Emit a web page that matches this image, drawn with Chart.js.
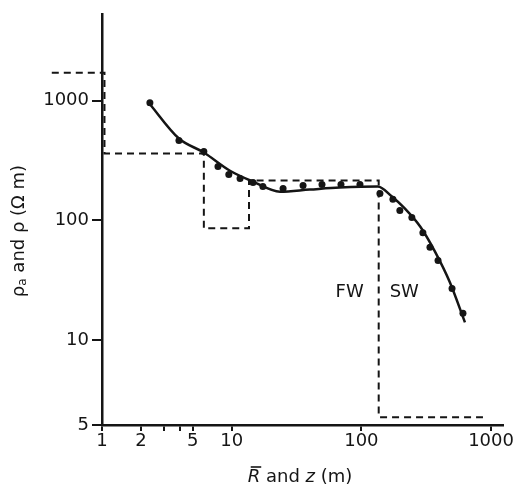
<!DOCTYPE html>
<html>
<head>
<meta charset="utf-8">
<script src="https://cdn.jsdelivr.net/npm/chart.js@4.4.1/dist/chart.umd.min.js"></script>
<style>
    html, body { margin: 0; padding: 0; background: #fff; }
</style>
</head>
<body>
<canvas id="grafica" width="517" height="486"></canvas>
<script>
// 🔹 Puntos de campo (R barra, rho aparente)
const puntosX = [2.34, 3.92, 6.1, 7.84, 9.5, 11.6, 14.6, 17.4, 24.9, 35.5, 49.7, 69.6, 97.5, 139, 175, 198, 245, 298, 338, 390, 500, 607];
const puntosY = [962, 464, 376, 282, 242, 224, 207, 192, 185, 196, 200, 200, 200, 168, 150, 121, 106, 79, 59.6, 46.4, 27, 16.8];

// 🔹 Curva suavizada
const curvaX = [2.26, 3.92, 6.1, 9.7, 14.6, 23.6, 40, 68, 134, 170, 216, 284, 366, 481, 629];
const curvaY = [980, 483, 369, 260, 211, 174, 181, 188, 192, 160, 126, 89, 56, 30.5, 14.1];

// 🔹 Modelo de capas (z, rho)
const capasX = [0.41, 1.045, 1.045, 6.1, 6.1, 13.6, 13.6, 136, 136, 866];
const capasY = [1710, 1710, 362, 362, 86, 86, 215, 215, 2.28, 2.28];

// 🔹 Ejes y marcas
const ejeX = [1, 1236];
const ejeY = [1.96, 5310];
const ticksX = [1, 2, 3, 4, 5, 10, 100, 1000];
const etiquetasX = ['1', '2', '', '', '5', '10', '100', '1000'];
const ticksY = [1.96, 10, 100, 1000];
const etiquetasY = ['5', '10', '100', '1000'];

const limiteFW = 136;
const alturaTexto = 25;

const negro = '#151515';
const fuente = '"DejaVu Sans", sans-serif';

function pares(xs, ys) {
    return xs.map((x, i) => ({ x: x, y: ys[i] }));
}

// 🔸 Títulos y etiquetas FW / SW
const textos = {
    id: 'textos',
    afterDraw(chart) {
        const c = chart.ctx;
        const sx = chart.scales.x;
        const sy = chart.scales.y;
        c.save();
        c.fillStyle = negro;
        c.strokeStyle = negro;

        // FW / SW
        c.font = '18px ' + fuente;
        c.textBaseline = 'middle';
        c.textAlign = 'right';
        let px = sx.getPixelForValue(limiteFW);
        let py = sy.getPixelForValue(alturaTexto);
        c.fillText('FW', px - 15, py);
        c.textAlign = 'left';
        c.fillText('SW', px + 11, py);

        // título eje Y
        c.save();
        c.translate(19, 231);
        c.rotate(-Math.PI / 2);
        c.textAlign = 'left';
        c.textBaseline = 'middle';
        const partes = [
            { t: 'ρ', f: '18px ' + fuente, dy: 0 },
            { t: 'a', f: '12px ' + fuente, dy: 4 },
            { t: ' and ρ (Ω m)', f: '18px ' + fuente, dy: 0 }
        ];
        let total = 0;
        partes.forEach(p => { c.font = p.f; total += c.measureText(p.t).width; });
        let cx = -total / 2;
        partes.forEach(p => {
            c.font = p.f;
            c.fillText(p.t, cx, p.dy);
            cx += c.measureText(p.t).width;
        });
        c.restore();

        // título eje X
        const partesX = [
            { t: 'R', f: 'italic 18px ' + fuente },
            { t: ' and ', f: '18px ' + fuente },
            { t: 'z', f: 'italic 18px ' + fuente },
            { t: ' (m)', f: '18px ' + fuente }
        ];
        let totalX = 0;
        partesX.forEach(p => { c.font = p.f; totalX += c.measureText(p.t).width; });
        let x0 = 300 - totalX / 2;
        const yT = 477;
        c.textAlign = 'left';
        c.textBaseline = 'middle';
        partesX.forEach((p, i) => {
            c.font = p.f;
            c.fillText(p.t, x0, yT);
            let w = c.measureText(p.t).width;
            if (i === 0) {
                c.lineWidth = 1.6;
                c.beginPath();
                c.moveTo(x0 + 3, yT - 10);
                c.lineTo(x0 + w + 1, yT - 10);
                c.stroke();
            }
            x0 += w;
        });
        c.restore();
    }
};

const ctx = document.getElementById('grafica').getContext('2d');

new Chart(ctx, {
    type: 'scatter',
    data: {
        datasets: [
            {
                label: 'Modelo',
                data: pares(capasX, capasY),
                showLine: true,
                borderColor: negro,
                borderWidth: 2,
                borderDash: [7, 5],
                pointRadius: 0,
                tension: 0,
                clip: false
            },
            {
                label: 'Curva',
                data: pares(curvaX, curvaY),
                showLine: true,
                borderColor: negro,
                borderWidth: 2.5,
                pointRadius: 0,
                cubicInterpolationMode: 'monotone'
            },
            {
                label: 'Puntos',
                data: pares(puntosX, puntosY),
                showLine: false,
                backgroundColor: negro,
                borderWidth: 0,
                pointRadius: 3.5
            }
        ]
    },
    options: {
        responsive: false,
        animation: false,
        layout: { padding: { top: 13, right: 14, left: 0, bottom: 0 } },
        plugins: {
            legend: { display: false },
            tooltip: { enabled: false }
        },
        scales: {
            x: {
                type: 'logarithmic',
                min: ejeX[0],
                max: ejeX[1],
                afterBuildTicks: s => { s.ticks = ticksX.map(v => ({ value: v })); },
                afterFit: s => { s.height = 61; },
                ticks: {
                    callback: (v, i) => etiquetasX[i],
                    color: negro,
                    font: { family: fuente, size: 18 },
                    padding: 0,
                    maxRotation: 0,
                    autoSkip: false
                },
                grid: { drawOnChartArea: false, drawTicks: true, tickLength: 6, color: negro, lineWidth: 2 },
                border: { color: negro, width: 2.5 }
            },
            y: {
                type: 'logarithmic',
                min: ejeY[0],
                max: ejeY[1],
                afterBuildTicks: s => { s.ticks = ticksY.map(v => ({ value: v })); },
                afterFit: s => { s.width = 102; },
                ticks: {
                    callback: (v, i) => etiquetasY[i],
                    color: negro,
                    font: { family: fuente, size: 18 },
                    padding: 3,
                    autoSkip: false
                },
                grid: { drawOnChartArea: false, drawTicks: true, tickLength: 10, color: negro, lineWidth: 2 },
                border: { color: negro, width: 2.5 }
            }
        }
    },
    plugins: [textos]
});
</script>
</body>
</html>
